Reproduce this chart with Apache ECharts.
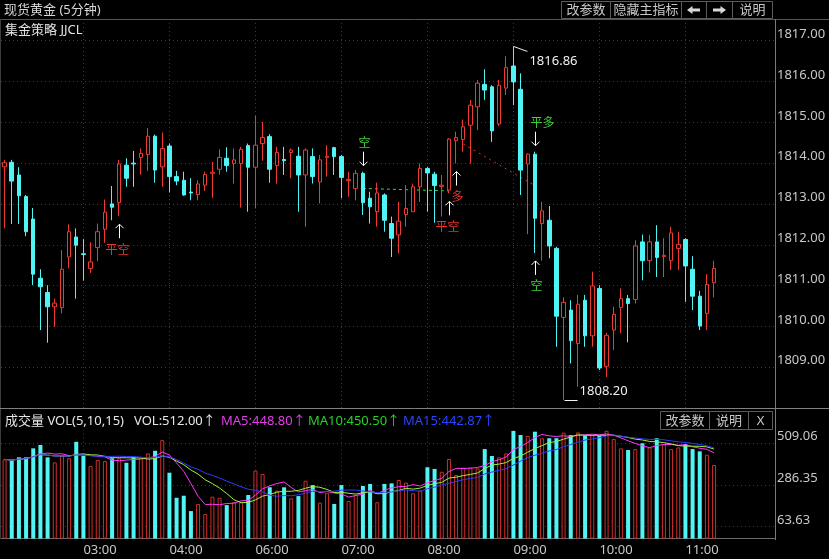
<!DOCTYPE html>
<html><head><meta charset="utf-8">
<script src="https://cdn.jsdelivr.net/npm/echarts@6/dist/echarts.min.js"></script>
<style>html,body{margin:0;padding:0;background:#000;overflow:hidden}#c{width:829px;height:559px}</style>
</head><body><div id="c"></div>
<script>
// ---------------- data ----------------
const opens = [
1813.91,1814.02,1813.71,1813.18,1812.63,1811.18,1810.83,1810.48,1810.46,1811.70,
1812.19,1811.78,1811.42,1811.93,1812.38,1813.00,1813.03,1813.95,1814.00,1814.14,
1814.21,1814.66,1813.91,1814.42,1813.67,1813.58,1813.29,1813.23,1813.46,1813.75,
1813.85,1814.12,1813.99,1813.99,1814.43,1813.90,1814.48,1814.65,1813.94,1814.09,
1814.26,1814.17,1813.71,1814.16,1813.54,1814.14,1814.38,1814.16,1813.57,1813.38,
1813.75,1813.14,1812.81,1813.22,1812.52,1812.24,1812.74,1812.81,1813.42,1813.87,
1813.73,1813.43,1813.34,1814.55,1814.58,1814.93,1815.38,1815.93,1815.87,1814.96,
1815.84,1816.38,1815.81,1813.98,1814.22,1812.52,1812.60,1811.91,1810.22,1810.40,
1809.58,1810.64,1809.77,1810.93,1809.02,1809.91,1810.46,1810.68,1810.66,1812.07,
1811.61,1812.07,1811.71,1811.61,1811.91,1812.13,1811.40,1810.74,1810.32,1811.07];
const closes = [
1814.01,1813.56,1813.20,1812.32,1811.28,1810.97,1810.48,1810.57,1811.40,1812.32,
1811.99,1811.76,1811.58,1812.32,1812.80,1812.92,1813.98,1813.63,1813.98,1814.24,
1814.66,1813.83,1814.36,1813.67,1813.56,1813.22,1813.27,1813.49,1813.72,1813.78,
1814.14,1813.94,1814.08,1814.34,1813.90,1814.44,1814.63,1813.85,1814.26,1814.06,
1814.32,1813.71,1814.32,1813.67,1814.08,1814.17,1814.16,1813.65,1813.60,1813.75,
1813.03,1812.93,1813.27,1812.60,1812.16,1812.58,1812.89,1813.42,1813.87,1813.76,
1813.45,1813.46,1814.59,1814.63,1814.89,1815.42,1815.96,1815.79,1814.79,1815.91,
1816.34,1815.99,1813.83,1814.22,1812.65,1812.83,1811.97,1810.25,1810.59,1809.65,
1810.54,1809.77,1810.99,1808.98,1809.78,1810.29,1810.68,1810.56,1811.97,1811.61,
1812.07,1811.69,1811.74,1812.29,1812.01,1811.48,1810.74,1810.01,1811.03,1811.42];
const lows = [
1812.40,1812.51,1812.51,1812.21,1811.01,1809.91,1809.60,1809.99,1810.32,1811.42,
1810.68,1811.12,1811.31,1811.60,1812.05,1812.60,1812.70,1813.42,1813.42,1813.72,
1813.81,1813.52,1813.42,1813.28,1813.46,1813.20,1813.09,1813.09,1813.32,1813.15,
1813.72,1813.79,1813.50,1812.91,1812.81,1812.89,1814.06,1813.52,1813.50,1813.71,
1813.63,1812.81,1812.44,1813.50,1813.01,1813.67,1813.71,1813.14,1813.18,1813.09,
1812.73,1812.52,1812.44,1812.32,1811.70,1811.79,1812.44,1812.81,1813.05,1812.81,
1812.54,1812.69,1813.26,1813.99,1814.28,1813.99,1814.81,1815.55,1814.52,1814.91,
1815.67,1815.42,1813.22,1812.26,1811.80,1811.61,1811.67,1809.50,1808.20,1809.09,
1808.52,1809.50,1809.50,1808.93,1808.76,1809.42,1809.83,1809.61,1810.56,1811.13,
1811.32,1811.21,1811.21,1811.38,1811.38,1810.60,1810.40,1809.91,1809.91,1810.71];
const highs = [
1814.08,1814.08,1813.90,1813.22,1812.90,1811.40,1811.01,1810.68,1811.87,1812.50,
1812.40,1812.14,1812.06,1812.52,1813.11,1813.44,1814.08,1814.12,1814.30,1814.36,
1814.86,1814.70,1814.75,1814.48,1813.81,1813.79,1813.63,1813.58,1813.79,1814.03,
1814.34,1814.39,1814.36,1814.40,1814.48,1815.16,1815.01,1814.71,1814.40,1814.40,
1814.36,1814.40,1814.36,1814.36,1814.20,1814.44,1814.40,1814.20,1813.79,1813.83,
1813.79,1813.30,1813.52,1813.26,1812.69,1813.05,1813.46,1813.50,1813.99,1813.91,
1813.79,1813.71,1814.61,1814.77,1815.07,1815.55,1816.04,1816.30,1815.91,1816.04,
1816.62,1816.86,1816.20,1814.24,1814.28,1813.05,1812.95,1811.95,1810.71,1810.64,
1810.77,1810.77,1811.34,1811.01,1809.84,1810.48,1810.93,1810.77,1812.11,1812.25,
1812.24,1812.48,1812.16,1812.44,1812.32,1812.16,1811.72,1810.87,1811.28,1811.61];
const volumes = [
423,416,434,434,482,500,434,407,443,429,
517,443,388,420,414,429,429,405,434,429,
455,469,526,352,218,229,147,185,131,224,
218,179,194,194,233,363,345,274,256,274,
215,227,309,286,192,245,185,286,201,233,
281,292,194,292,295,313,299,242,256,381,
372,357,425,340,379,379,375,478,441,434,
455,575,553,548,571,536,536,536,566,553,
567,550,553,548,576,532,482,473,478,509,
487,536,504,478,487,505,478,466,448,393];

// sessions: [start time, number of 5-minute slots]
const sessions = [['02:05', 24], ['05:05', 84]];
const tickLabels = ['03:00','04:00','06:00','07:00','08:00','09:00','10:00','11:00'];
const priceTicks = [1809,1810,1811,1812,1813,1814,1815,1816,1817];
const volTicks = [63.63, 286.35, 509.06];
const maPeriods = [5, 10, 15];

// trade signals
const signalBars = [16, 50, 62, 63, 74, 74];
const signalTexts = ['平空', '空', '平空', '多', '平多', '空'];
const signalDirs = ['up', 'down', 'up', 'up', 'down', 'up'];
// position lines: [barFrom, priceFrom, barTo, priceTo]
const greenLine = [50, 1813.38, 62, 1813.32];
const redLine = [64, 1814.47, 74, 1813.45];

// ---------------- build ----------------
const categories = [];
sessions.forEach(([t, n]) => {
  let [h, m] = t.split(':').map(Number);
  for (let k = 0; k < n; k++) {
    categories.push(String(h).padStart(2,'0') + ':' + String(m).padStart(2,'0'));
    m += 5; if (m >= 60) { m -= 60; h += 1; }
  }
});
const RED = '#ee3a32', CYAN = '#50f4f4', VRED = '#cf2f2a', GREEN = '#3fd23a';
const FONT = "'Noto Sans','Noto Sans CJK SC',sans-serif";
const candleData = opens.map((o, i) => [o, closes[i], lows[i], highs[i]]);
const volData = volumes.map((v, i) => ({
  value: v,
  itemStyle: closes[i] >= opens[i] ? {color: '#000', borderColor: VRED, borderWidth: 1} : {color: CYAN, borderWidth: 0}
}));
function movingAvg(arr, n) {
  return arr.map((_, i) => { const s = Math.max(0, i - n + 1); let t = 0; for (let k = s; k <= i; k++) t += arr[k]; return +(t / (i - s + 1)).toFixed(2); });
}
const tickIdx = tickLabels.map(t => categories.indexOf(t));
const vLines = tickIdx.map(i => ({xAxis: i}));
const gridStyle = {color: '#3a3a3a', type: [1, 3], width: 1};

const chart = echarts.init(document.getElementById('c'));
chart.setOption({
  backgroundColor: '#000',
  animation: false,
  textStyle: {fontFamily: FONT},
  grid: [
    {left: 1, right: 54, top: 21, height: 387},
    {left: 1, right: 54, top: 430, height: 108.6}
  ],
  xAxis: [
    {type: 'category', gridIndex: 0, data: categories, boundaryGap: true,
     axisLine: {show: false}, axisTick: {show: false}, axisLabel: {show: false}, splitLine: {show: false}},
    {type: 'category', gridIndex: 1, data: categories, boundaryGap: true,
     axisLine: {show: true, lineStyle: {color: '#6a6a6a'}}, axisTick: {show: false}, splitLine: {show: false},
     axisLabel: {interval: (i) => tickIdx.includes(i), align: 'left', color: '#c8c8c8', fontSize: 13, margin: 5, fontFamily: FONT}}
  ],
  yAxis: [
    {type: 'value', gridIndex: 0, position: 'right', min: 1808, max: 1817.483, interval: 1, scale: true,
     axisLine: {show: true, lineStyle: {color: '#7a7a7a'}},
     axisTick: {show: false, customValues: priceTicks},
     axisLabel: {customValues: priceTicks, formatter: v => v.toFixed(2), color: '#c8c8c8', fontSize: 13, margin: 2, verticalAlign: 'bottom', fontFamily: FONT},
     splitLine: {show: true, lineStyle: gridStyle}},
    {type: 'value', gridIndex: 1, position: 'right', min: 0, max: 580,
     axisLine: {show: true, lineStyle: {color: '#7a7a7a'}},
     axisTick: {show: false, customValues: volTicks},
     axisLabel: {customValues: volTicks, formatter: v => v.toFixed(2), color: '#c8c8c8', fontSize: 13, margin: 2, verticalAlign: 'bottom', fontFamily: FONT},
     splitLine: {show: true, lineStyle: gridStyle}}
  ],
  series: [
    {type: 'candlestick', xAxisIndex: 0, yAxisIndex: 0, data: candleData, barWidth: 4, z: 3,
     itemStyle: {color: '#000', color0: CYAN, borderColor: RED, borderColor0: CYAN, borderWidth: 1},
     markLine: {silent: true, z: 1, symbol: ['none', 'none'], label: {show: false},
       lineStyle: gridStyle,
       data: vLines.concat([
         [{coord: [greenLine[0], greenLine[1]], lineStyle: {color: GREEN, type: [3, 3], width: 1}},
          {coord: [greenLine[2], greenLine[3]], lineStyle: {color: GREEN, type: [3, 3], width: 1}}],
         [{coord: [redLine[0], redLine[1]], lineStyle: {color: '#d8302a', type: [2, 4], width: 1}},
          {coord: [redLine[2], redLine[3]], lineStyle: {color: '#d8302a', type: [2, 4], width: 1}}]
       ])}},
    {type: 'bar', xAxisIndex: 1, yAxisIndex: 1, data: volData, barWidth: 4, z: 3,
     markLine: {silent: true, z: 1, symbol: ['none', 'none'], label: {show: false}, lineStyle: gridStyle, data: vLines}},
    {type: 'line', xAxisIndex: 1, yAxisIndex: 1, z: 4, data: movingAvg(volumes, maPeriods[0]), showSymbol: false, lineStyle: {color: '#ff36ff', width: 1}},
    {type: 'line', xAxisIndex: 1, yAxisIndex: 1, z: 4, data: movingAvg(volumes, maPeriods[1]), showSymbol: false, lineStyle: {color: '#9cf03c', width: 1}},
    {type: 'line', xAxisIndex: 1, yAxisIndex: 1, z: 4, data: movingAvg(volumes, maPeriods[2]), showSymbol: false, lineStyle: {color: '#2c3cff', width: 1}}
  ]
});

// ---------------- overlays ----------------
const g = [];
function line(x1, y1, x2, y2, c, w) { g.push({type: 'line', silent: true, z: 10, shape: {x1, y1, x2, y2}, style: {stroke: c, lineWidth: w || 1}}); }
function text(x, y, t, c, size, align, valign) {
  g.push({type: 'text', silent: true, z: 11, x, y, style: {text: t, fill: c, font: (size || 13) + 'px ' + FONT,
    textAlign: align || 'left', textVerticalAlign: valign || 'middle', align: align || 'left', verticalAlign: valign || 'middle'}});
}
function button(x, y, w, h, t) {
  g.push({type: 'rect', silent: true, z: 10, shape: {x: x + 0.5, y: y + 0.5, width: w, height: h}, style: {fill: '#000', stroke: '#5c5c5c', lineWidth: 1}});
  if (t) text(x + w / 2 + 0.5, y + h / 2 + 1, t, '#c8c8c8', 13, 'center');
}
// header rows
line(0, 19.5, 829, 19.5, '#555');
line(0.5, 19, 0.5, 539, '#3c3c3c');
line(775.5, 19, 775.5, 540, '#7a7a7a');
line(0, 408.5, 829, 408.5, '#808080');
text(4, 10, '现货黄金 (5分钟)', '#d8d8d8', 13);
text(5, 30, '集金策略 JJCL', '#e2e2e2', 13);
button(561, 1, 49, 17, '改参数');
button(610, 1, 71, 17, '隐藏主指标');
button(681, 1, 25, 17, '');
button(706, 1, 26, 17, '');
button(732, 1, 40, 17, '说明');
g.push({type: 'polygon', silent: true, z: 11, shape: {points: [[687, 10], [692.5, 6], [692.5, 8.5], [700, 8.5], [700, 11.5], [692.5, 11.5], [692.5, 14]]}, style: {fill: '#d8d8d8'}});
g.push({type: 'polygon', silent: true, z: 11, shape: {points: [[726, 10], [720.5, 6], [720.5, 8.5], [713, 8.5], [713, 11.5], [720.5, 11.5], [720.5, 14]]}, style: {fill: '#d8d8d8'}});
// volume header
text(5, 421, '成交量 VOL(5,10,15)', '#e6e6e6', 13);
text(134, 421, 'VOL:512.00↑', '#e6e6e6', 13);
text(221, 421, 'MA5:448.80↑', '#e23ee2', 13);
text(308, 421, 'MA10:450.50↑', '#28d028', 13);
text(403, 421, 'MA15:442.87↑', '#2a44ff', 13);
button(660, 411, 49, 18, '改参数');
button(709, 411, 39, 18, '说明');
button(748, 411, 24, 18, 'X');

function px(i, p) { return chart.convertToPixel({gridIndex: 0}, [i, p]); }
function arrow(x, yTip, yTail) {
  const d = yTail > yTip ? 4 : -4;
  g.push({type: 'polyline', silent: true, z: 11, shape: {points: [[x, yTip], [x, yTail]]}, style: {stroke: '#ffffff', lineWidth: 1, fill: null}});
  g.push({type: 'polyline', silent: true, z: 11, shape: {points: [[x - 4, yTip + d], [x, yTip], [x + 4, yTip + d]]}, style: {stroke: '#ffffff', lineWidth: 1, fill: null}});
}
signalBars.forEach((b, k) => {
  const t = signalTexts[k];
  const col = (t === '平空' || t === '多') ? '#e8342e' : GREEN;
  const x = Math.round(px(b, lows[b])[0]) + 0.5;
  const dx = t === '平多' ? 7 : (t === '平空' ? -2 : 1);
  if (signalDirs[k] === 'up') {
    const yl = px(b, lows[b])[1];
    arrow(x, yl + 8, yl + 22);
    text(x + dx, yl + 28, t, col, 12, 'center', 'top');
  } else {
    const yh = px(b, highs[b])[1];
    arrow(x, yh - 6, yh - 20);
    text(x + dx, yh - 22, t, col, 12, 'center', 'bottom');
  }
});
// high / low markers
let hiI = 0, loI = 0;
highs.forEach((h, i) => { if (h > highs[hiI]) hiI = i; });
lows.forEach((l, i) => { if (l < lows[loI]) loI = i; });
const hp = px(hiI, highs[hiI]);
line(Math.round(hp[0]) + 0.5, hp[1], hp[0] + 14, hp[1] + 5, '#f0f0f0');
text(hp[0] + 16, hp[1] + 15, highs[hiI].toFixed(2), '#f0f0f0', 13);
const lp = px(loI, lows[loI]);
line(Math.round(lp[0]) + 0.5, Math.round(lp[1]) + 0.5, lp[0] + 14, Math.round(lp[1]) + 0.5, '#f0f0f0');
text(lp[0] + 16, lp[1] - 9, lows[loI].toFixed(2), '#f0f0f0', 13);

chart.setOption({graphic: {elements: g}});
</script>
</body></html>
